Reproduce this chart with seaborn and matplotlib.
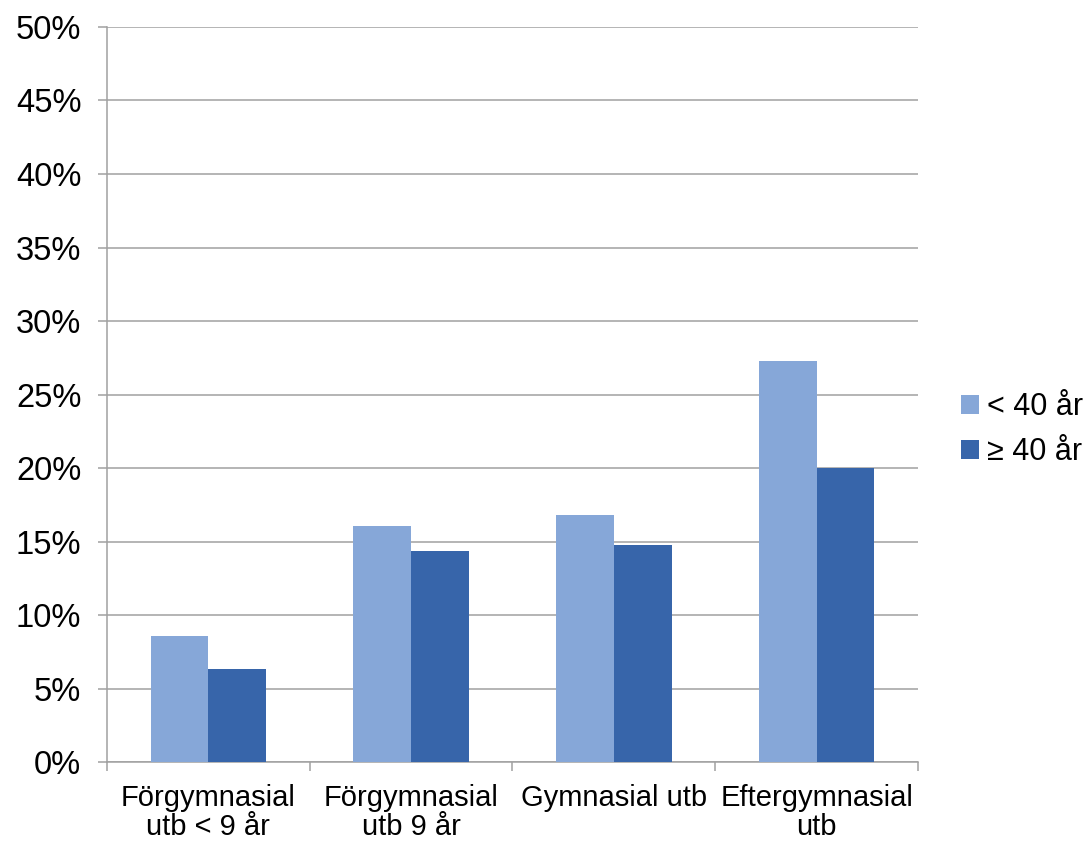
import pandas as pd
import matplotlib.pyplot as plt
import seaborn as sns
from matplotlib.ticker import PercentFormatter, FixedLocator

# Data
kategorier = ['Förgymnasial\nutb < 9 år', 'Förgymnasial\nutb 9 år', 'Gymnasial utb', 'Eftergymnasial\nutb']
grupper = ['< 40 år', '≥ 40 år']
under_40 = [8.6, 16.05, 16.8, 27.3]
over_40 = [6.3, 14.35, 14.75, 20.0]
farger = ['#86A7D8', '#3765AA']

df = pd.DataFrame({
    'kategori': kategorier * 2,
    'grupp': [grupper[0]] * 4 + [grupper[1]] * 4,
    'andel': under_40 + over_40,
})

sns.set_style('white')
plt.rcParams['font.family'] = ['Liberation Sans', 'DejaVu Sans']
plt.rcParams['text.color'] = 'black'
plt.rcParams['xtick.color'] = 'black'
plt.rcParams['ytick.color'] = 'black'

fig = plt.figure(figsize=(10.91, 8.41), dpi=100)
ax = fig.add_axes([0.0981, 0.0939, 0.7433, 0.874])

sns.barplot(data=df, x='kategori', y='andel', hue='grupp', order=kategorier,
            hue_order=grupper, palette=farger, width=0.57, gap=0,
            saturation=1, linewidth=0, ax=ax, zorder=3)

ax.set_xlim(-0.5, 3.5)
ax.set_ylim(0, 50)
ax.set_yticks(range(0, 51, 5))
ax.yaxis.set_major_formatter(PercentFormatter(decimals=0))
ax.grid(axis='y', color='#A0A0A0', linewidth=1.1, zorder=0)
ax.grid(axis='x', visible=False)

for side in ['top', 'right']:
    ax.spines[side].set_visible(False)
for side in ['left', 'bottom']:
    ax.spines[side].set_color('#A0A0A0')
    ax.spines[side].set_linewidth(1.1)

ax.tick_params(axis='y', which='major', length=6.5, color='#A0A0A0', width=1.1,
               labelsize=23.5, pad=12, left=True, labelcolor='black')
ax.tick_params(axis='x', which='major', length=0, labelsize=21, pad=16, labelcolor='black')
ax.xaxis.set_minor_locator(FixedLocator([-0.5, 0.5, 1.5, 2.5, 3.5]))
ax.tick_params(axis='x', which='minor', length=6.5, color='#A0A0A0', width=1.1, bottom=True)
for lbl in ax.get_xticklabels():
    lbl.set_linespacing(1.05)

ax.set_xlabel('')
ax.set_ylabel('')

handles, labels = ax.get_legend_handles_labels()
ax.legend_.remove()
fig.legend(handles, labels, loc='center left', bbox_to_anchor=(0.881, 0.489),
           frameon=False, fontsize=22, handlelength=0.58, handleheight=0.58,
           handletextpad=0.25, labelspacing=0.5, borderpad=0, borderaxespad=0)

plt.savefig('out.png', dpi=100)
plt.close()
